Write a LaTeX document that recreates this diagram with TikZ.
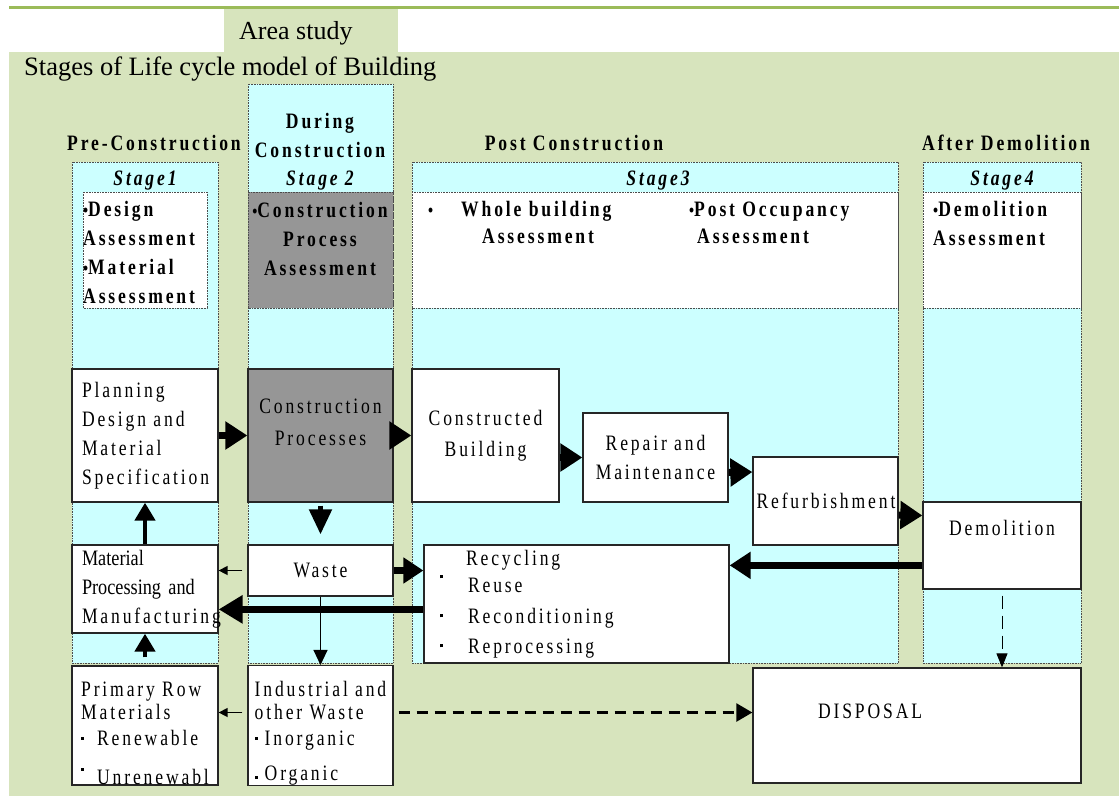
\documentclass[tikz,border=0pt]{standalone}
\usepackage{fontspec}
\setmainfont{Liberation Serif}
\newfontfamily\spacedfont[FakeStretch=0.8,LetterSpace=13]{Liberation Serif}
\newfontfamily\condfont[FakeStretch=0.83]{Liberation Serif}
\usepackage{xcolor}
\usepackage{tikz}
\usetikzlibrary{arrows.meta, positioning}

\definecolor{areagreen}{HTML}{D7E4BD}
\definecolor{linegreen}{HTML}{9BBB59}
\definecolor{stagecyan}{HTML}{CCFFFF}
\definecolor{procgray}{HTML}{969696}

\newcommand{\lab}{\spacedfont\fontsize{22}{29}\selectfont}
\newcommand{\sqbul}[1]{\rule[#1]{3pt}{3pt}}
\newcommand{\smbul}{{\fontsize{18}{18}\selectfont •}}

\begin{document}
\begin{tikzpicture}[x=1pt, y=-1pt,
  stagecol/.style={fill=stagecyan, draw=black!70, densely dotted, line width=0.6pt},
  asmbox/.style={fill=white, draw=black!70, densely dotted, line width=0.6pt},
  box/.style={draw=black!85, fill=white, line width=1.3pt, inner sep=0pt, font=\lab},
  hdr/.style={font=\lab\bfseries, anchor=base, align=center},
  stagelab/.style={font=\lab\bfseries\itshape, anchor=base},
  asmtext/.style={font=\lab\bfseries, anchor=base west, align=left},
  bigarrow/.style={line width=7pt, -{Triangle[length=22pt,width=27pt]}},
  uparrow/.style={line width=4.5pt, -{Triangle[length=18pt,width=20pt]}},
  thinarrow/.style={line width=1.5pt, -{Triangle[length=9pt,width=9pt]}},
  dasharrow/.style={line width=2.5pt, dash pattern=on 11pt off 7pt, -{Triangle[length=16pt,width=18pt]}}]
  \useasboundingbox (0,0) rectangle (1119,796);

  % Background and title tab
  \fill[areagreen] (9,52) rectangle (1119,796);
  \fill[areagreen] (224,8) rectangle (398,52);
  \draw[linegreen, line width=3pt] (9,7) -- (1119,7);
  \node[anchor=base west, font=\fontsize{26}{30}\selectfont, inner sep=0pt] (area) at (239,39) {Area study};
  \node[anchor=base west, font=\fontsize{26.5}{30}\selectfont, inner sep=0pt] (title) at (24,75) {Stages of Life cycle model of Building};

  % Stage columns
  \foreach \xa/\xb/\ya in {72/218/162, 248/393/84, 412/898/162, 923/1081/162}
    \draw[stagecol] (\xa,\ya) rectangle (\xb,663);

  % Assessment boxes
  \draw[asmbox] (83,192) rectangle (207,308);
  \draw[asmbox, fill=procgray] (248,192) rectangle (393,308);
  \draw[asmbox] (412,192) rectangle (898,308);
  \draw[asmbox] (923,192) rectangle (1081,308);

  % Stage headings (base anchor = last line)
  \node[hdr] (hpre) at (154,150) {Pre-Construction};
  \node[hdr] (hdur) at (320,157) {During\\Construction};
  \node[hdr] (hpost) at (574,150) {Post Construction};
  \node[hdr] (hafter) at (1006,150) {After Demolition};
  \node[stagelab] (st1) at (145,185) {Stage1};
  \node[stagelab] (st2) at (320,185) {Stage 2};
  \node[stagelab] (st3) at (658,185) {Stage3};
  \node[stagelab] (st4) at (1002,185) {Stage4};

  % Assessment texts
  \node[asmtext, inner sep=0pt] (asm1) at (83,303) {\smbul Design\\Assessment\\\smbul Material\\Assessment};
  \node[asmtext, inner sep=0pt, anchor=base, align=center] (asm2) at (320,275) {\smbul Construction\\Process\\Assessment};
  \node[asmtext, inner sep=0pt] (asm3a) at (461,243) {\llap{\smbul\hspace{28pt}}Whole building\\[-2pt]\hspace*{21pt}Assessment};
  \node[asmtext, inner sep=0pt] (asm3b) at (689,243) {\smbul Post Occupancy\\[-2pt]\hspace*{8pt}Assessment};
  \node[asmtext, inner sep=0pt] (asm4) at (933,245) {\smbul Demolition\\Assessment};

  % Life cycle process boxes
  \node[box, minimum width=146pt, minimum height=133pt, text width=126pt, align=left] (plan) at (145,435.5) {Planning\\Design and\\Material\\Specification};
  \node[box, fill=procgray, minimum width=145pt, minimum height=133pt, align=center, text depth=27pt] (cproc) at (320.5,435.5) {Construction\\[3pt]Processes};
  \node[box, minimum width=147pt, minimum height=133pt, align=center] (cbuild) at (485.5,435.5) {Constructed\\[2pt]Building};
  \node[box, minimum width=145pt, minimum height=89pt, align=center] (repair) at (655.5,457.5) {Repair and\\Maintenance};
  \node[box, minimum width=145pt, minimum height=88pt, text width=138pt, align=left] (refurb) at (825.5,501) {Refurbishment};
  \node[box, minimum width=158pt, minimum height=87pt, align=center, text depth=36pt] (demol) at (1002,545.5) {Demolition};

  % Material and waste boxes
  \node[box, font=\condfont\fontsize{22}{29}\selectfont, minimum width=146pt, minimum height=88pt, text width=126pt, align=left] (matproc) at (145,589) {Material\\Processing and\\{\lab Manufacturing}};
  \node[box, minimum width=145pt, minimum height=51pt] (waste) at (320.5,570.5) {Waste};
  \node[box, minimum width=305pt, minimum height=118pt, text width=273pt, align=left] (recyc) at (576.5,604) {\hspace*{26pt}Recycling\\[-2pt]\sqbul{14pt}\hspace{25pt}Reuse\\[2pt]\sqbul{6pt}\hspace{25pt}Reconditioning\\[1pt]\sqbul{6pt}\hspace{25pt}Reprocessing};
  \node[box, font=\spacedfont\fontsize{22}{23}\selectfont, minimum width=146pt, minimum height=115pt, align=left] (primary) at (145,725.5) {\rule{0pt}{31pt}Primary Row\\Materials\\[3pt]\sqbul{6pt}\hspace{13pt}Renewable\\[16pt]\sqbul{14pt}\hspace{13pt}Unrenewabl};
  \node[box, font=\spacedfont\fontsize{22}{23}\selectfont, minimum width=145pt, minimum height=115pt, align=left] (indus) at (320.5,725.5) {\rule{0pt}{31pt}Industrial and\\other Waste\\[3pt]\sqbul{6pt}\hspace{7pt}Inorganic\\[12pt]\sqbul{2pt}\hspace{7pt}Organic};
  \node[box, minimum width=328pt, minimum height=115pt, text width=198pt, align=left, text depth=28pt] (disposal) at (917,725.5) {DISPOSAL};

  % Process flow
  \draw[bigarrow] (plan.east) -- (cproc.west);
  \draw[bigarrow] (cproc.east) -- (cbuild.west);
  \draw[bigarrow] (cbuild.east |- repair.west) -- (repair.west);
  \draw[bigarrow] ([yshift=-15pt]repair.east) -- ([yshift=29pt]refurb.west);
  \draw[bigarrow] ([yshift=-14pt]refurb.east) -- ([yshift=30pt]demol.west);

  % Waste and material flow
  \draw[line width=5pt, -{Triangle[length=25pt,width=22pt]}, shorten <=3pt, shorten >=10pt] (cproc.south) -- (waste.north);
  \draw[uparrow] (matproc.north) -- (plan.south);
  \draw[uparrow, shorten <=8pt] (primary.north) -- (matproc.south);
  \draw[thinarrow, shorten <=5pt] (waste.west) -- (matproc.east |- waste.west);
  \draw[bigarrow, -{Triangle[length=20pt,width=25pt]}] (waste.east) -- (recyc.west |- waste.east);
  \coordinate (rin) at ([yshift=-21pt]recyc.north east);
  \coordinate (rout) at ([yshift=-65pt]recyc.north west);
  \draw[bigarrow, -{Triangle[length=21pt,width=26pt]}] (demol.west |- rin) -- (rin);
  \draw[bigarrow, -{Triangle[length=24pt,width=27pt]}] (rout) -- (matproc.east |- rout);
  \draw[line width=1pt, -{Triangle[length=15pt,width=14pt]}] (waste.south) -- (indus.north);
  \draw[thinarrow, shorten <=5pt] ([yshift=13pt]indus.west) -- ([yshift=13pt]primary.east);
  \draw[dasharrow, shorten <=5pt] ([yshift=13pt]indus.east) -- ([yshift=13pt]disposal.west);
  \draw[line width=1pt, dash pattern=on 13pt off 7pt, -{Triangle[length=14pt,width=11pt]}, shorten <=6pt] (demol.south) -- (disposal.north -| demol.south);
\end{tikzpicture}
\end{document}
